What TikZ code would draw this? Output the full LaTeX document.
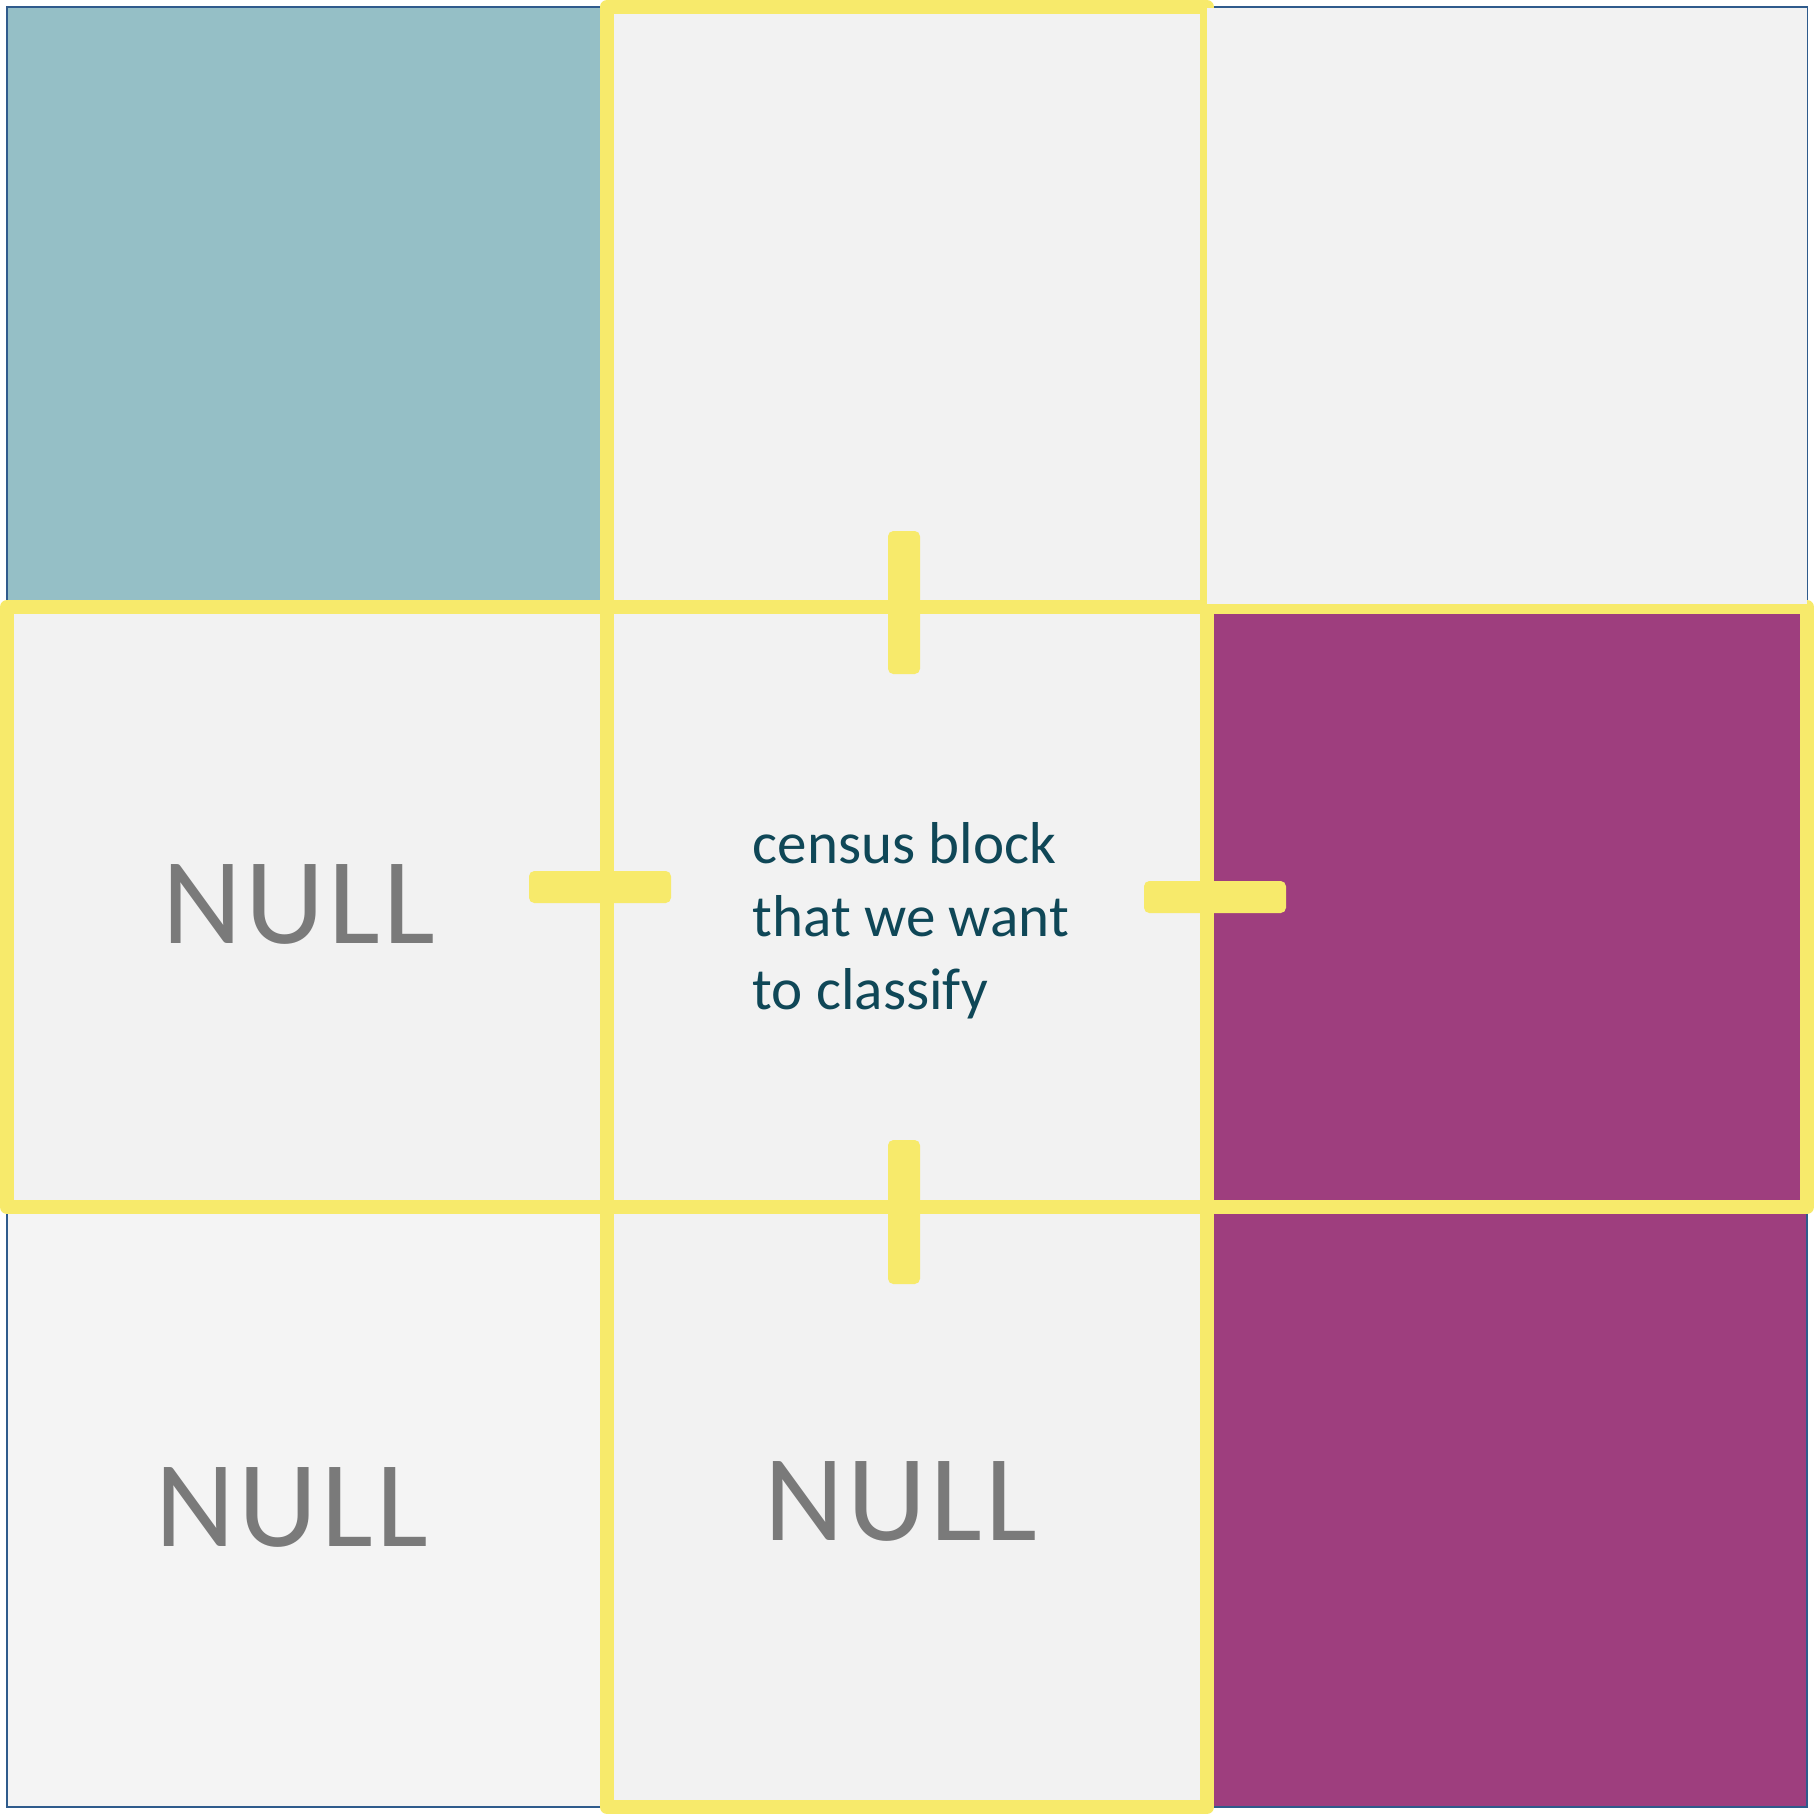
\documentclass[tikz,border=0pt]{standalone}
\usepackage{fontspec}
\setmainfont{Carlito}
\usepackage{tikz}
\usepackage{xcolor}
\definecolor{celeste}{HTML}{95BFC6}
\definecolor{gris}{HTML}{F2F2F2}
\definecolor{grisclaro}{HTML}{F4F4F4}
\definecolor{morado}{HTML}{9E3E7E}
\definecolor{amarillo}{HTML}{F7EA6B}
\definecolor{borde}{HTML}{2F5B8C}
\definecolor{tinta}{HTML}{0F4757}
\definecolor{nulo}{HTML}{7A7A7A}

\begin{document}
\begin{tikzpicture}[x=0.01cm,y=-0.01cm,
    marco/.style={draw=amarillo,line width=0.14cm,line join=round},
    barra/.style={fill=amarillo,rounded corners=1.5pt},
    nulltxt/.style={text=nulo,font=\fontsize{35}{40}\selectfont\addfontfeature{LetterSpace=3},inner sep=0pt,anchor=base},
    bloquetxt/.style={text=tinta,font=\fontsize{16.8}{20.7}\selectfont,align=left,inner sep=0pt}]
\useasboundingbox (0,0) rectangle (1814,1814);
\foreach \c/\r/\col in {0/0/celeste,1/0/gris,0/1/gris,1/1/gris,2/1/morado,0/2/grisclaro,1/2/gris,2/2/morado}
  \fill[fill=\col] (7+600*\c,7+600*\r) rectangle (607+600*\c,607+600*\r); % celdas
\draw[borde,line width=0.02cm] (7,7) rectangle (1807,1807); % borde
\foreach \c/\r in {1/0,0/1,1/1,2/1,1/2}
  \draw[marco] (7+600*\c,7+600*\r) rectangle (607+600*\c,607+600*\r); % vecinos
\fill[barra] (888,531) rectangle (920,674); % arriba
\fill[barra] (888,1140) rectangle (920,1284); % abajo
\fill[barra] (529,871) rectangle (671,903); % izquierda
\fill[barra] (1144,881) rectangle (1286,913); % derecha
\fill[gris] (1207,8) rectangle (1807,604);
\node[nulltxt] (nullizq) at (299,943) {NULL};
\node[nulltxt] (nullabizq) at (292,1546) {NULL};
\node[nulltxt] (nullab) at (901,1540) {NULL};
\node[bloquetxt,anchor=base west] (bloque) at (752,1009) {census block\\that we want\\to classify};
\end{tikzpicture}
\end{document}
